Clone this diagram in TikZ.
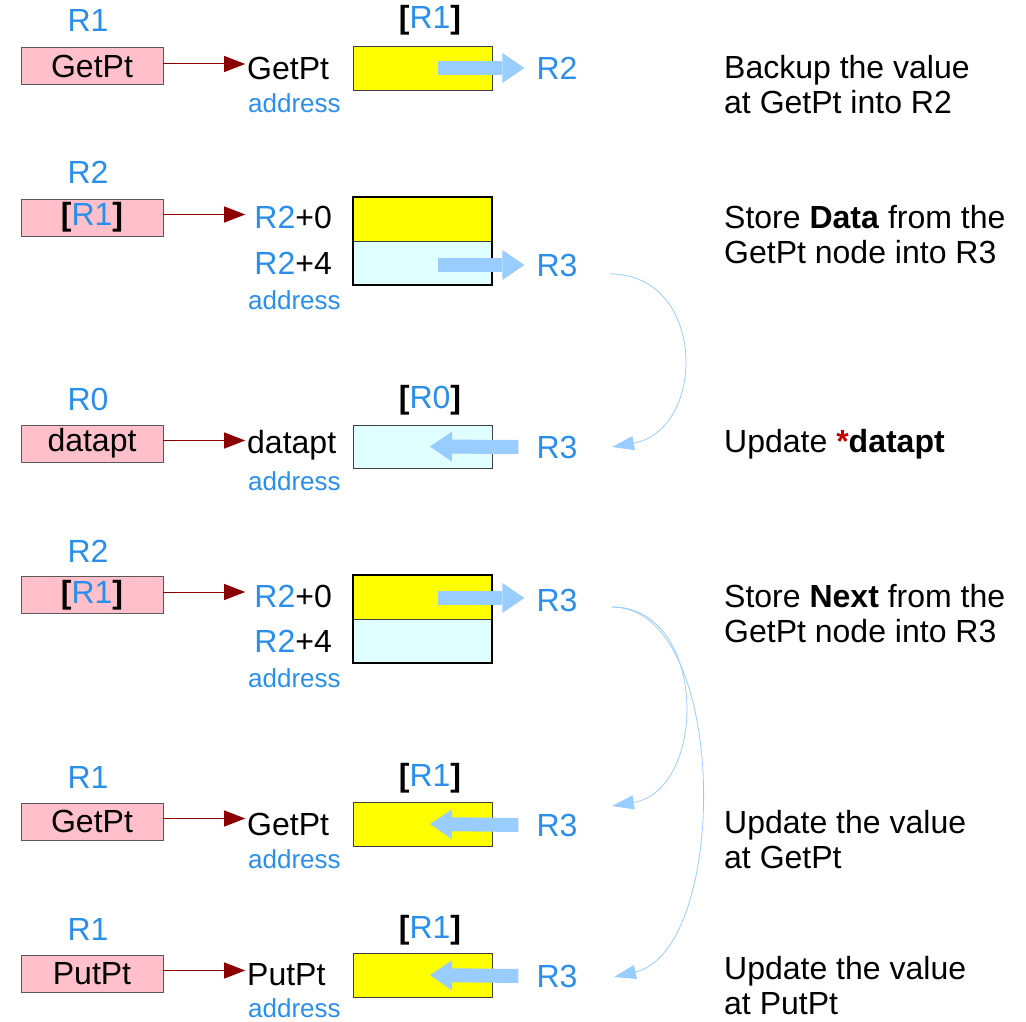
\documentclass[tikz,border=0pt]{standalone}
\usepackage{fontspec}
\setmainfont{Liberation Sans}
\usepackage{xcolor}
\usepackage{tikz}
\usetikzlibrary{arrows.meta,positioning,calc}
\definecolor{regblue}{HTML}{2A8FEA}
\definecolor{flowblue}{HTML}{99CCFF}
\definecolor{ptrred}{HTML}{8B0000}
\definecolor{starred}{HTML}{C00000}
\definecolor{regpink}{HTML}{FFC0CB}
\definecolor{cellyellow}{HTML}{FFFF00}
\definecolor{cellcyan}{HTML}{E0FFFF}
\newcommand{\rg}[1]{\textcolor{regblue}{#1}}
\newcommand{\brk}[1]{\textbf{[}\rg{#1}\textbf{]}}

\begin{document}
\begin{tikzpicture}[x=1pt,y=-1pt,
  bigfont/.style={font=\fontsize{32}{35}\selectfont},
  reglabel/.style={bigfont,text=regblue,inner sep=0pt},
  plaintext/.style={bigfont,inner sep=0pt},
  regbox/.style={draw=black!65,fill=regpink,minimum width=142pt,minimum height=37pt,
                 inner sep=0pt,bigfont},
  cellbox/.style={draw=black!75,minimum width=139pt,minimum height=44pt,inner sep=0pt},
  addrlabel/.style={font=\fontsize{26}{28}\selectfont,text=regblue,inner sep=0pt,anchor=west},
  notetext/.style={bigfont,align=left,anchor=west,inner sep=0pt},
  ptrarrow/.style={ptrred,line width=1pt,-{Triangle[length=21pt,width=16pt]}},
  movearrow/.style={flowblue,line width=14pt,-{Triangle[length=22pt,width=30pt,line width=0pt]}},
  hoparrow/.style={flowblue,line width=0.8pt,-{Triangle[length=22pt,width=14pt]}}]
\useasboundingbox (0,0) rectangle (1026,1022);

% row 1: backup GetPt into R2
\node[reglabel] (l1) at (88,20) {R1};
\node[regbox] (p1) at (92,66) {GetPt};
\node[plaintext,anchor=west] (a1) at (247,68) {GetPt};
\node[addrlabel] (d1) at (248,103) {address};
\node[cellbox,fill=cellyellow] (m1) at (422.5,68) {};
\node[plaintext] (b1) at (430,20) {\brk{R1}};
\node[reglabel] (g1) at (557,68) {R2};
\node[notetext] (c1) at (724,84.5) {Backup the value\\at GetPt into R2};
\draw[ptrarrow] ($(p1.east)+(0,-2)$) -- ($(p1.east)+(82,-2)$);
\draw[movearrow] ($(m1.center)+(15,0)$) -- ($(g1.west)+(-12,0)$);

% row 2: load Data of the node
\node[reglabel] (l2) at (88,172) {R2};
\node[regbox] (p2) at (92,217.5) {\brk{R1}};
\node[plaintext,anchor=east] (a2) at (332,217) {\rg{R2}+0};
\node[plaintext,anchor=east] (e2) at (332,263) {\rg{R2}+4};
\node[addrlabel] (d2) at (248,300) {address};
\node[cellbox,fill=cellyellow] (m2) at (422.5,219) {};
\node[cellbox,fill=cellcyan] (n2) at (422.5,263) {};
\draw[line width=2.2pt] (m2.north west) rectangle (n2.south east);
\node[reglabel] (g2) at (557,265) {R3};
\node[notetext] (c2) at (724,235) {Store \textbf{Data} from the\\GetPt node into R3};
\draw[ptrarrow] ($(p2.east)+(0,-3)$) -- ($(p2.east)+(82,-3)$);
\draw[movearrow] ($(n2.center)+(15,2)$) -- ($(g2.west)+(-12,0)$);

% row 3: store R3 into *datapt
\node[reglabel] (l3) at (88,399) {R0};
\node[regbox] (p3) at (92,443.5) {datapt};
\node[plaintext,anchor=west] (a3) at (247,445) {datapt};
\node[addrlabel] (d3) at (248,481) {address};
\node[cellbox,fill=cellcyan,minimum height=43pt] (m3) at (422.5,446.5) {};
\node[plaintext] (b3) at (430,400) {\brk{R0}};
\node[reglabel] (g3) at (557,447) {R3};
\node[notetext] (c3) at (724,444) {Update \textcolor{starred}{\textbf{*}}\textbf{datapt}};
\draw[ptrarrow] ($(p3.east)+(0,-3)$) -- ($(p3.east)+(82,-3)$);
\draw[movearrow] ($(g3.west)+(-18,0)$) -- ($(m3.center)+(7.5,0)$);

% row 4: load Next of the node
\node[reglabel] (l4) at (88,551) {R2};
\node[regbox] (p4) at (92,595) {\brk{R1}};
\node[plaintext,anchor=east] (a4) at (332,596) {\rg{R2}+0};
\node[plaintext,anchor=east] (e4) at (332,641) {\rg{R2}+4};
\node[addrlabel] (d4) at (248,678) {address};
\node[cellbox,fill=cellyellow] (m4) at (422.5,597) {};
\node[cellbox,fill=cellcyan] (n4) at (422.5,641) {};
\draw[line width=2.2pt] (m4.north west) rectangle (n4.south east);
\node[reglabel] (g4) at (557,600) {R3};
\node[notetext] (c4) at (724,613.5) {Store \textbf{Next} from the\\GetPt node into R3};
\draw[ptrarrow] ($(p4.east)+(0,-3)$) -- ($(p4.east)+(82,-3)$);
\draw[movearrow] ($(m4.center)+(15,1)$) -- ($(g4.west)+(-12,-2)$);

% row 5: R3 back into GetPt
\node[reglabel] (l5) at (88,777) {R1};
\node[regbox] (p5) at (92,821.5) {GetPt};
\node[plaintext,anchor=west] (a5) at (247,824) {GetPt};
\node[addrlabel] (d5) at (248,859) {address};
\node[cellbox,fill=cellyellow] (m5) at (422.5,824) {};
\node[plaintext] (b5) at (430,778) {\brk{R1}};
\node[reglabel] (g5) at (557,825) {R3};
\node[notetext] (c5) at (724,839.5) {Update the value\\at GetPt};
\draw[ptrarrow] ($(p5.east)+(0,-3)$) -- ($(p5.east)+(82,-3)$);
\draw[movearrow] ($(g5.west)+(-18,0)$) -- ($(m5.center)+(7.5,0)$);

% row 6: R3 into PutPt
\node[reglabel] (l6) at (88,929) {R1};
\node[regbox] (p6) at (92,973.5) {PutPt};
\node[plaintext,anchor=west] (a6) at (247,975) {PutPt};
\node[addrlabel] (d6) at (248,1008) {address};
\node[cellbox,fill=cellyellow] (m6) at (422.5,975) {};
\node[plaintext] (b6) at (430,930) {\brk{R1}};
\node[reglabel] (g6) at (557,976) {R3};
\node[notetext] (c6) at (724,985.5) {Update the value\\at PutPt};
\draw[ptrarrow] ($(p6.east)+(0,-3)$) -- ($(p6.east)+(82,-3)$);
\draw[movearrow] ($(g6.west)+(-18,0)$) -- ($(m6.center)+(7.5,0)$);

% R3 carried between the steps
\coordinate (o2) at (610,274);
\coordinate (i3) at (612,447);
\coordinate (o4) at (612,607);
\coordinate (i5) at (612,806);
\coordinate (i6) at (614,977);
\draw[hoparrow] (o2) .. controls (707,274) and (707,430) .. (i3);
\draw[hoparrow] (o4) .. controls (708,607) and (708,790) .. (i5);
\draw[hoparrow] (o4) .. controls (730,607) and (730,950) .. (i6);
\end{tikzpicture}
\end{document}
